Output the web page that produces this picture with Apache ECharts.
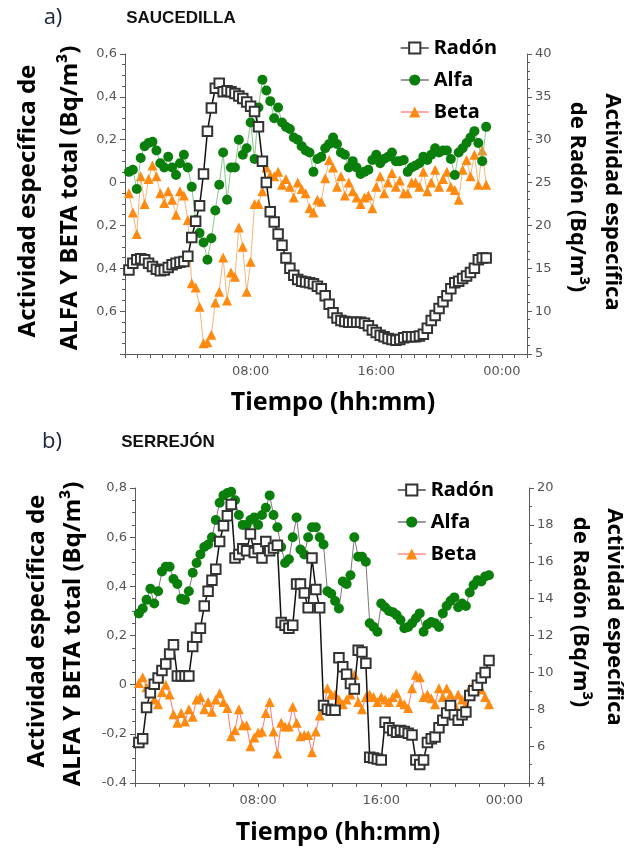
<!DOCTYPE html>
<html>
<head>
<meta charset="utf-8">
<script src="https://cdn.jsdelivr.net/npm/echarts@6/dist/echarts.min.js"></script>
<style>
html,body{margin:0;padding:0;background:#fff;}
#chart{width:625px;height:850px;}
</style>
</head>
<body>
<div id="chart"></div>
<script>
// ---------------- DATA ----------------
// sampling times (hours) : first sample and step, shared by all series
const firstSampleH = 0.25;
const sampleStepH = 0.25;

// a) SAUCEDILLA
const radonA = [14.8,15.6,16.0,16.1,16.0,15.6,15.2,14.9,14.7,14.8,
  15.1,15.4,15.6,15.7,15.8,16.4,18.6,20.5,22.3,26.0,
  31.0,33.7,36.0,36.6,35.6,35.7,35.6,35.4,35.1,34.8,
  34.4,33.9,33.3,31.5,27.5,25.0,21.6,20.4,19.0,17.7,
  16.2,15.0,14.2,13.7,13.5,13.4,13.3,13.2,12.9,12.6,
  11.8,10.8,9.8,9.2,8.9,8.8,8.7,8.7,8.7,8.7,
  8.6,8.3,7.8,7.5,7.2,7.0,6.8,6.7,6.6,6.7,
  6.9,7.0,7.0,7.0,7.1,7.3,8.0,8.9,9.5,10.3,
  11.1,11.8,12.6,13.3,13.5,13.8,14.1,14.5,15.0,16.0,
  16.2,16.2];
const alfaA = [0.05,0.06,-0.03,0.115,0.17,0.185,0.19,0.15,0.09,0.07,
  0.12,0.07,0.035,0.09,0.13,0.07,-0.02,-0.175,-0.235,-0.28,
  -0.36,-0.26,-0.13,-0.01,0.14,-0.08,0.07,0.07,0.2,0.13,
  0.16,0.28,0.11,0.35,0.48,0.43,0.38,0.30,0.35,0.28,
  0.26,0.25,0.21,0.20,0.17,0.15,0.14,0.05,0.11,0.12,
  0.16,0.18,0.21,0.18,0.14,0.13,0.07,0.10,0.07,0.04,
  0.05,0.06,0.105,0.13,0.09,0.11,0.12,0.14,0.10,0.10,
  0.105,0.05,0.07,0.08,0.09,0.12,0.105,0.13,0.16,0.14,
  0.15,0.15,0.11,0.035,0.14,0.16,0.185,0.21,0.24,0.185,
  0.10,0.26];
const betaA = [-0.05,-0.14,-0.24,0.03,-0.10,0.017,0.08,0.03,-0.05,-0.095,
  -0.04,-0.08,-0.15,-0.04,-0.06,-0.175,-0.47,-0.49,-0.58,-0.75,
  -0.745,-0.71,-0.56,-0.51,-0.35,-0.55,-0.42,-0.44,-0.21,-0.30,
  -0.51,-0.37,-0.10,-0.10,-0.04,0.07,0.035,0.03,0.05,-0.01,
  0.017,-0.02,-0.07,0.0,-0.03,-0.05,-0.12,-0.14,-0.08,-0.09,
  0.02,0.105,0.07,-0.02,0.03,-0.06,0.0,-0.04,-0.07,-0.10,
  -0.07,-0.06,-0.12,-0.02,0.03,-0.05,0.0,0.045,-0.02,0.01,
  -0.05,-0.05,0.0,0.0,-0.02,0.05,-0.04,0.0,0.06,-0.02,
  0.017,0.05,-0.02,-0.035,-0.08,0.06,0.105,0.03,0.13,-0.01,
  0.15,-0.01];

// b) SERREJÓN
const radonB = [6.2,6.4,8.1,8.9,9.35,9.7,10.1,10.45,11.0,11.5,
  9.8,9.8,9.8,9.8,11.4,11.9,12.4,13.6,14.4,15.0,
  15.6,17.1,17.95,18.5,19.1,16.2,16.4,16.7,16.6,17.5,
  16.5,16.7,16.2,17.1,16.6,16.75,16.9,12.7,12.55,12.4,
  12.55,14.8,14.8,14.3,13.5,16.2,14.5,13.5,8.2,8.0,
  7.95,7.95,10.8,10.3,9.9,9.4,9.1,11.2,11.1,10.5,
  5.4,5.35,5.3,5.25,7.3,7.0,6.85,6.75,6.85,6.8,
  6.7,6.6,5.25,5.0,5.25,6.2,6.4,6.5,7.0,7.4,
  7.8,8.2,7.7,7.4,7.7,7.85,8.75,9.0,9.3,9.7,
  10.0,10.65];
const alfaB = [0.29,0.31,0.345,0.39,0.33,0.38,0.46,0.48,0.48,0.43,
  0.41,0.35,0.345,0.38,0.455,0.495,0.53,0.56,0.57,0.60,
  0.67,0.74,0.77,0.78,0.785,0.75,0.69,0.65,0.65,0.67,
  0.68,0.65,0.69,0.72,0.77,0.69,0.64,0.56,0.495,0.51,
  0.60,0.68,0.55,0.53,0.60,0.64,0.64,0.60,0.57,0.38,
  0.37,0.34,0.31,0.42,0.41,0.445,0.60,0.52,0.52,0.50,
  0.25,0.235,0.215,0.33,0.315,0.30,0.295,0.283,0.263,0.23,
  0.235,0.25,0.27,0.29,0.215,0.245,0.255,0.25,0.235,0.29,
  0.32,0.34,0.355,0.315,0.33,0.32,0.375,0.405,0.425,0.42,
  0.44,0.445];
const betaB = [0.007,0.03,-0.01,-0.03,-0.06,-0.08,-0.03,0.0,-0.04,-0.12,
  -0.155,-0.115,-0.15,-0.10,-0.13,-0.06,-0.05,-0.10,-0.07,-0.11,
  -0.06,-0.035,-0.07,-0.095,-0.21,-0.185,-0.10,-0.165,-0.165,-0.25,
  -0.215,-0.195,-0.19,-0.115,-0.07,-0.19,-0.28,-0.155,-0.17,-0.17,
  -0.09,-0.155,-0.21,-0.205,-0.205,-0.275,-0.19,-0.125,-0.095,-0.015,
  -0.04,-0.04,-0.06,-0.08,-0.06,-0.04,0.04,-0.07,-0.10,-0.05,
  -0.04,-0.05,-0.07,-0.05,-0.06,-0.07,-0.05,-0.035,-0.07,-0.08,
  -0.095,-0.015,0.04,0.03,-0.05,-0.04,-0.055,-0.08,-0.015,-0.05,
  -0.015,-0.04,-0.08,-0.04,-0.06,-0.08,-0.015,0.0,0.007,-0.02,
  -0.05,-0.08];

// tick labels
const xTickLabels = {0: '', 8: '08:00', 16: '16:00', 24: '00:00'};
const leftLabelsA = ['', '0,6', '0,4', '0,2', '0', '0,2', '0,4', '0,6'];   // from -0.8 to 0.6
const rightLabelsA = ['5', '10', '15', '20', '25', '30', '35', '40'];
const leftLabelsB = ['-0.4', '-0,2', '0', '0,2', '0,4', '0,6', '0,8'];      // from -0.4 to 0.8
const rightLabelsB = ['4', '6', '8', '10', '12', '14', '16', '18', '20'];

// ---------------- BUILD ----------------
function pairs(vals) {
  return vals.map((v, i) => [firstSampleH + i * sampleStepH, v]);
}
function xFmt(v) {
  const r = Math.round(v * 100) / 100;
  const k = Math.round(r);
  if (Math.abs(r - k) < 1e-6 && xTickLabels.hasOwnProperty(k)) return xTickLabels[k];
  return '';
}
function idxFmt(labels, min, step) {
  return function (v) {
    const i = Math.round((v - min) / step);
    return labels[i] !== undefined ? labels[i] : '';
  };
}

const axisCol = '#5a5a5a';
const lblStyle = {color: '#555', fontFamily: 'DejaVu Sans', fontSize: 13};

function xAxis(gi, interval) {
  return {
    type: 'value', gridIndex: gi, min: 0, max: 25.6, interval: interval,
    axisLine: {show: true, onZero: false, lineStyle: {color: axisCol, width: 1}},
    axisTick: {show: true, length: 4, lineStyle: {color: axisCol}},
    splitLine: {show: false},
    axisLabel: Object.assign({formatter: xFmt, margin: 11}, lblStyle)
  };
}
function yAxis(gi, pos, min, max, interval, labels, minorSplit) {
  return {
    type: 'value', gridIndex: gi, position: pos, min: min, max: max, interval: interval,
    axisLine: {show: true, onZero: false, lineStyle: {color: axisCol, width: 1}},
    axisTick: {show: true, length: 5, lineStyle: {color: axisCol}},
    minorTick: {show: true, splitNumber: minorSplit, length: 3, lineStyle: {color: axisCol}},
    splitLine: {show: false},
    minorSplitLine: {show: false},
    axisLabel: Object.assign({formatter: idxFmt(labels, min, interval), margin: 8}, lblStyle)
  };
}

function makeSeries(gi, radon, alfa, beta, alfaLine, betaLine) {
  return [
    {
      name: 'Beta', type: 'line', xAxisIndex: gi, yAxisIndex: gi * 2,
      data: pairs(beta), symbol: 'triangle', symbolSize: 10, showAllSymbol: true,
      itemStyle: {color: '#ff8a12'}, lineStyle: {color: betaLine, width: 1}, z: 2
    },
    {
      name: 'Alfa', type: 'line', xAxisIndex: gi, yAxisIndex: gi * 2,
      data: pairs(alfa), symbol: 'circle', symbolSize: 10, showAllSymbol: true,
      itemStyle: {color: '#0b7f0b'}, lineStyle: {color: alfaLine, width: 1}, z: 3
    },
    {
      name: 'Radón', type: 'line', xAxisIndex: gi, yAxisIndex: gi * 2 + 1,
      data: pairs(radon), symbol: 'emptyRect', symbolSize: 9.5, showAllSymbol: true,
      itemStyle: {color: '#333', borderColor: '#333', borderWidth: 1.2},
      lineStyle: {color: '#111', width: 1.5}, z: 4
    }
  ];
}

function legend(left, top) {
  return {
    left: left, top: top, orient: 'vertical', itemWidth: 28, itemHeight: 14, itemGap: 12,
    selectedMode: false,
    textStyle: {fontFamily: 'Noto Sans', fontWeight: 'bold', fontSize: 20, color: '#000'},
    data: [
      {name: 'Radón', lineStyle: {color: '#444', width: 1.5}},
      {name: 'Alfa', lineStyle: {color: '#555', width: 1.2}},
      {name: 'Beta', lineStyle: {color: '#ff6a6a', width: 1.2}}
    ]
  };
}

function txt(x, y, text, font, rot, fill) {
  return {
    type: 'text', x: x, y: y, rotation: rot || 0,
    style: {text: text, font: font, fill: fill || '#000', align: 'center', verticalAlign: 'middle',
            textAlign: 'center', textVerticalAlign: 'middle'}
  };
}

const titleFont = 'bold 24px "Noto Sans"';
const rTitleFont = 'bold 22px "Noto Sans"';
const P = Math.PI / 2;

const option = {
  animation: false,
  backgroundColor: '#fff',
  grid: [
    {left: 125, top: 54, width: 402, height: 300},
    {left: 135, top: 488, width: 394, height: 295}
  ],
  xAxis: [xAxis(0, 0.8), xAxis(1, 1.6)],
  yAxis: [
    yAxis(0, 'left', -0.8, 0.6, 0.2, leftLabelsA, 4),
    yAxis(0, 'right', 5, 40, 5, rightLabelsA, 5),
    yAxis(1, 'left', -0.4, 0.8, 0.2, leftLabelsB, 4),
    yAxis(1, 'right', 4, 20, 2, rightLabelsB, 2)
  ],
  legend: [legend(395, 33), legend(392, 475)],
  series: makeSeries(0, radonA, alfaA, betaA, '#8cc88c', '#f5b77a')
    .concat(makeSeries(1, radonB, alfaB, betaB, '#7a7a7a', '#ff7a7a')),
  graphic: [
    txt(53, 18, 'a)', '22px "Open Sans"', 0, '#1b2440'),
    txt(181, 18, 'SAUCEDILLA', 'bold 17px "Liberation Sans"', 0, '#111'),
    txt(52, 442, 'b)', '22px "Open Sans"', 0, '#1b2440'),
    txt(168, 442, 'SERREJÓN', 'bold 17px "Liberation Sans"', 0, '#111'),
    txt(28, 201, 'Actividad específica de', titleFont, P),
    txt(70, 198, 'ALFA Y BETA total (Bq/m³)', titleFont, P),
    txt(612, 202, 'Actividad específica', rTitleFont, -P),
    txt(577, 197, 'de Radón (Bq/m³)', rTitleFont, -P),
    txt(333, 403, 'Tiempo (hh:mm)', 'bold 25px "Noto Sans"'),
    txt(37, 631, 'Actividad específica de', titleFont, P),
    txt(73, 634, 'ALFA Y BETA total (Bq/m³)', titleFont, P),
    txt(614, 617, 'Actividad específica', rTitleFont, -P),
    txt(580, 612, 'de Radón (Bq/m³)', rTitleFont, -P),
    txt(338, 833, 'Tiempo (hh:mm)', 'bold 25px "Noto Sans"')
  ]
};

const chart = echarts.init(document.getElementById('chart'), null, {renderer: 'canvas'});
chart.setOption(option);
</script>
</body>
</html>
